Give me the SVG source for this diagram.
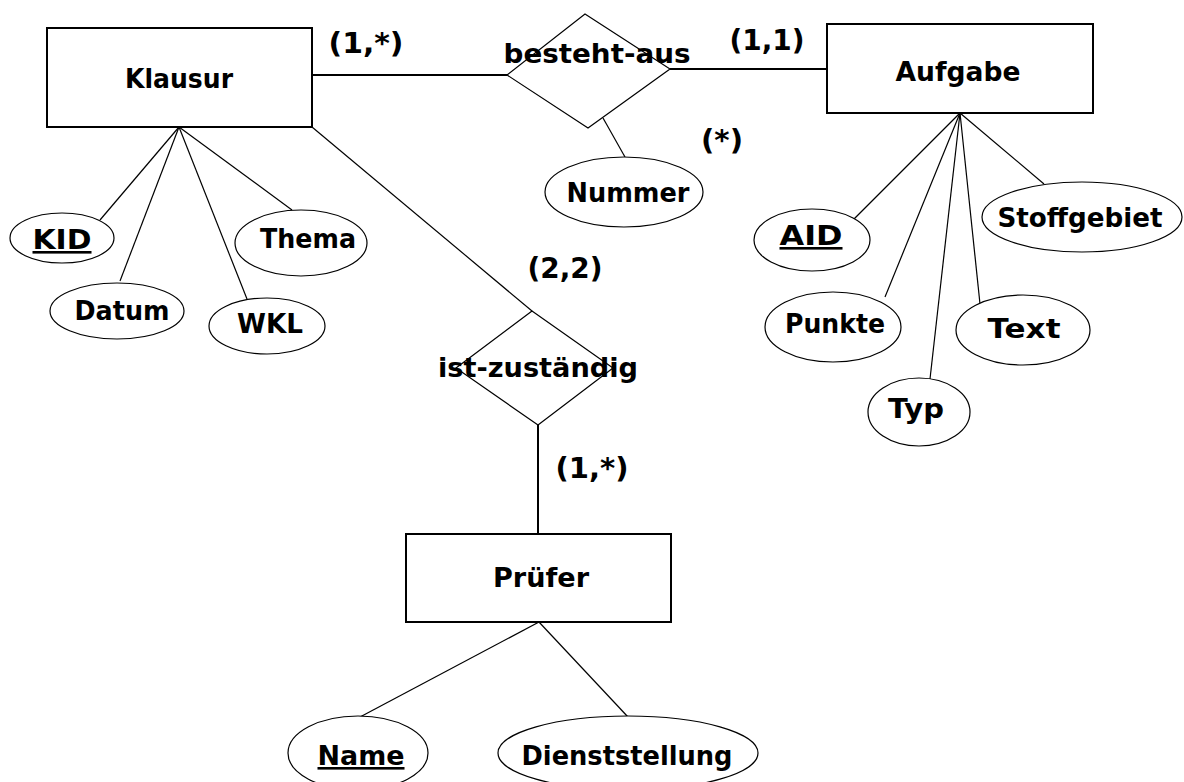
<svg xmlns="http://www.w3.org/2000/svg" width="1184" height="782" viewBox="0 0 1184 782">
<style>
.ent{fill:#fff;stroke:#000;stroke-width:2}
.rel{fill:#fff;stroke:#000;stroke-width:1.2}
.att{fill:#fff;stroke:#000;stroke-width:1.2}
.thin{stroke:#000;stroke-width:1.2;fill:none}
.thick{stroke:#000;stroke-width:2;fill:none}
text{font-family:"DejaVu Sans","Liberation Sans",sans-serif;font-weight:bold;font-size:26px;text-anchor:middle;fill:#000}
.lbl{font-size:28px}
.u{text-decoration:underline}
</style>
<rect width="1184" height="782" fill="#fff"/>
<g id="connectors">
<line class="thick" x1="312" y1="75" x2="507" y2="75"/>
<line class="thick" x1="670" y1="69" x2="827" y2="69"/>
<line class="thin" x1="603" y1="118" x2="625" y2="157"/>
<line class="thin" x1="312" y1="127" x2="532" y2="311"/>
<line class="thick" x1="538" y1="425" x2="538" y2="534"/>
<line class="thin" x1="179" y1="127" x2="100" y2="220"/>
<line class="thin" x1="179" y1="127" x2="120" y2="281"/>
<line class="thin" x1="179" y1="127" x2="247" y2="299"/>
<line class="thin" x1="179" y1="127" x2="292" y2="210"/>
<line class="thin" x1="960" y1="113" x2="853" y2="220"/>
<line class="thin" x1="960" y1="113" x2="885" y2="297"/>
<line class="thin" x1="960" y1="113" x2="930" y2="379"/>
<line class="thin" x1="960" y1="113" x2="980" y2="304"/>
<line class="thin" x1="960" y1="113" x2="1044" y2="184"/>
<line class="thin" x1="539" y1="622" x2="360" y2="717"/>
<line class="thin" x1="539" y1="622" x2="628" y2="717"/>
</g>
<g id="klausur"><rect class="ent" x="47" y="28" width="265" height="99"/><text x="179" y="88" textLength="108" lengthAdjust="spacingAndGlyphs">Klausur</text></g>
<g id="aufgabe"><rect class="ent" x="827" y="24" width="266" height="89"/><text x="958" y="81" textLength="125" lengthAdjust="spacingAndGlyphs">Aufgabe</text></g>
<g id="pruefer"><rect class="ent" x="406" y="534" width="265" height="88"/><text x="541" y="587" textLength="96" lengthAdjust="spacingAndGlyphs">Prüfer</text></g>
<g id="besteht-aus"><polygon class="rel" points="585,14 670,69 588,128 507,75"/><text x="597" y="63" textLength="187" lengthAdjust="spacingAndGlyphs">besteht-aus</text></g>
<g id="ist-zustaendig"><polygon class="rel" points="532,311 613,368 538,425 456,368"/><text x="538" y="377" textLength="200" lengthAdjust="spacingAndGlyphs">ist-zuständig</text></g>
<g id="kid"><ellipse class="att" cx="62" cy="238" rx="52" ry="25"/><text class="u" x="62" y="249" textLength="59" lengthAdjust="spacingAndGlyphs">KID</text></g>
<g id="datum"><ellipse class="att" cx="117" cy="311" rx="67" ry="28"/><text x="122" y="320" textLength="95" lengthAdjust="spacingAndGlyphs">Datum</text></g>
<g id="wkl"><ellipse class="att" cx="267" cy="326" rx="58" ry="28"/><text x="270" y="333" textLength="66" lengthAdjust="spacingAndGlyphs">WKL</text></g>
<g id="thema"><ellipse class="att" cx="301" cy="243" rx="66" ry="33"/><text x="308" y="248" textLength="96" lengthAdjust="spacingAndGlyphs">Thema</text></g>
<g id="nummer"><ellipse class="att" cx="624" cy="192" rx="79" ry="35"/><text x="628" y="202" textLength="123" lengthAdjust="spacingAndGlyphs">Nummer</text></g>
<g id="aid"><ellipse class="att" cx="812" cy="240" rx="58" ry="31"/><text class="u" x="811" y="245" textLength="63" lengthAdjust="spacingAndGlyphs">AID</text></g>
<g id="punkte"><ellipse class="att" cx="833" cy="327" rx="68" ry="35"/><text x="835" y="333" textLength="100" lengthAdjust="spacingAndGlyphs">Punkte</text></g>
<g id="typ"><ellipse class="att" cx="919" cy="412" rx="51" ry="34"/><text x="916" y="418" textLength="56" lengthAdjust="spacingAndGlyphs">Typ</text></g>
<g id="text"><ellipse class="att" cx="1023" cy="330" rx="67" ry="35"/><text x="1024" y="338" textLength="73" lengthAdjust="spacingAndGlyphs">Text</text></g>
<g id="stoffgebiet"><ellipse class="att" cx="1082" cy="217" rx="100" ry="35"/><text x="1080" y="227" textLength="165" lengthAdjust="spacingAndGlyphs">Stoffgebiet</text></g>
<g id="name"><ellipse class="att" cx="358" cy="753" rx="70" ry="37"/><text class="u" x="361" y="765" textLength="87" lengthAdjust="spacingAndGlyphs">Name</text></g>
<g id="dienststellung"><ellipse class="att" cx="628" cy="753" rx="130" ry="37"/><text x="627" y="765" textLength="211" lengthAdjust="spacingAndGlyphs">Dienststellung</text></g>
<g id="labels">
<text class="lbl" x="366" y="53" textLength="75" lengthAdjust="spacingAndGlyphs">(1,*)</text>
<text class="lbl" x="767" y="50" textLength="75" lengthAdjust="spacingAndGlyphs">(1,1)</text>
<text class="lbl" x="722" y="150" textLength="42" lengthAdjust="spacingAndGlyphs">(*)</text>
<text class="lbl" x="565" y="278" textLength="75" lengthAdjust="spacingAndGlyphs">(2,2)</text>
<text class="lbl" x="592" y="478" textLength="73" lengthAdjust="spacingAndGlyphs">(1,*)</text>
</g>
</svg>
